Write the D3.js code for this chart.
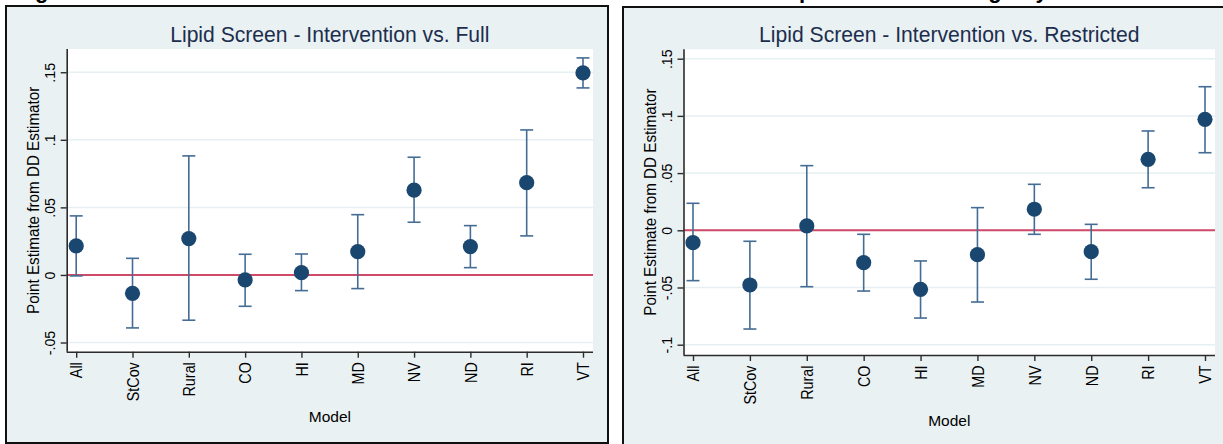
<!DOCTYPE html>
<html>
<head>
<meta charset="utf-8">
<script src="https://cdn.jsdelivr.net/npm/d3@7"></script>
<style>
  html, body { margin: 0; padding: 0; background: #ffffff; overflow: hidden; }
  svg { display: block; font-family: "Liberation Sans", Arial, Helvetica, sans-serif; }
</style>
</head>
<body>
<svg id="chart" width="1223" height="444"></svg>
<script>
// Models on the x axis
const models = ["All", "StCov", "Rural", "CO", "HI", "MD", "NV", "ND", "RI", "VT"];

// Intervention vs. Full: DD point estimates with lower / upper bounds
const fullEst = [0.0215, -0.0136, 0.0269, -0.0037, 0.0017, 0.0173, 0.0627, 0.0210, 0.0683, 0.1495];
const fullLo  = [-0.0007, -0.0392, -0.0335, -0.0232, -0.0116, -0.0101, 0.0390, 0.0054, 0.0289, 0.1384];
const fullHi  = [0.0437, 0.0123, 0.0881, 0.0153, 0.0155, 0.0446, 0.0871, 0.0365, 0.1073, 0.1606];

// Intervention vs. Restricted: DD point estimates with lower / upper bounds
const restEst = [-0.0108, -0.0478, 0.0038, -0.0283, -0.0516, -0.0213, 0.0184, -0.0187, 0.0620, 0.0970];
const restLo  = [-0.0440, -0.0863, -0.0493, -0.0531, -0.0767, -0.0627, -0.0035, -0.0428, 0.0372, 0.0678];
const restHi  = [0.0236, -0.0096, 0.0565, -0.0035, -0.0268, 0.0198, 0.0402, 0.0052, 0.0868, 0.1255];

// Y axis ticks and their labels
const fullTicks = [-0.05, 0, 0.05, 0.1, 0.15];
const fullTickLabels = ["-.05", "0", ".05", ".1", ".15"];
const restTicks = [-0.1, -0.05, 0, 0.05, 0.1, 0.15];
const restTickLabels = ["-.1", "-.05", "0", ".05", ".1", ".15"];

const titles = ["Lipid Screen - Intervention vs. Full", "Lipid Screen - Intervention vs. Restricted"];
const yTitle = "Point Estimate from DD Estimator";
const xTitle = "Model";
const caption = "Figure 7: Estimated Effects of the Intervention on Lipid Screening by Model";

const C = {
  bg: "#eaf1f3",
  plot: "#ffffff",
  grid: "#e6eff1",
  axis: "#2b2b2b",
  title: "#1c2e4e",
  marker: "#1a476f",
  bar: "#456c94",
  zero: "#cf4a68"
};

const svg = d3.select("#chart");

// squeeze or stretch a text run along its reading direction
function fit(sel, factor) {
  sel.each(function () {
    const len = this.getComputedTextLength();
    d3.select(this).attr("textLength", len * factor).attr("lengthAdjust", "spacingAndGlyphs");
  });
}

// Page caption sitting above the top edge; only its descenders reach into view
svg.append("text")
  .attr("x", 6).attr("y", -2.5)
  .attr("font-size", 22).attr("font-weight", "bold").attr("fill", "#000")
  .attr("textLength", 1140).attr("lengthAdjust", "spacing")
  .text(caption);

function drawPanel(cfg) {
  const g = svg.append("g");

  // outer graph region
  g.append("rect")
    .attr("x", cfg.box[0]).attr("y", cfg.box[1])
    .attr("width", cfg.box[2]).attr("height", cfg.box[3])
    .attr("fill", C.bg).attr("stroke", "#111").attr("stroke-width", 2);

  const x = d3.scalePoint().domain(models).range([cfg.left + 9.5, cfg.right - 10]);
  const y = d3.scaleLinear().domain(cfg.yDomain).range([cfg.bottom, cfg.top]);

  // plot region
  g.append("rect")
    .attr("x", cfg.left).attr("y", cfg.top)
    .attr("width", cfg.right - cfg.left).attr("height", cfg.bottom - cfg.top)
    .attr("fill", C.plot);

  // horizontal grid
  g.append("g").selectAll("line").data(cfg.ticks).join("line")
    .attr("x1", cfg.left).attr("x2", cfg.right)
    .attr("y1", d => y(d)).attr("y2", d => y(d))
    .attr("stroke", C.grid).attr("stroke-width", 1.5);

  // reference line at zero
  g.append("line")
    .attr("x1", cfg.left).attr("x2", cfg.right)
    .attr("y1", y(0)).attr("y2", y(0))
    .attr("stroke", C.zero).attr("stroke-width", 2);

  // confidence intervals
  const bars = g.append("g").attr("stroke", C.bar).attr("stroke-width", 1.6).attr("fill", "none");
  models.forEach((m, i) => {
    const cx = x(m);
    bars.append("line").attr("x1", cx).attr("x2", cx).attr("y1", y(cfg.lo[i])).attr("y2", y(cfg.hi[i]));
    bars.append("line").attr("x1", cx - 6.5).attr("x2", cx + 6.5).attr("y1", y(cfg.lo[i])).attr("y2", y(cfg.lo[i]));
    bars.append("line").attr("x1", cx - 6.5).attr("x2", cx + 6.5).attr("y1", y(cfg.hi[i])).attr("y2", y(cfg.hi[i]));
  });

  // point estimates
  g.append("g").selectAll("circle").data(models).join("circle")
    .attr("cx", d => x(d)).attr("cy", (d, i) => y(cfg.est[i]))
    .attr("r", 7.6).attr("fill", C.marker);

  // y axis
  const ya = g.append("g").attr("transform", `translate(${cfg.left},0)`)
    .call(d3.axisLeft(y).tickValues(cfg.ticks).tickFormat((d, i) => cfg.tickLabels[i]).tickSize(6).tickSizeOuter(0));
  ya.attr("font-family", null);
  ya.select(".domain").attr("stroke", C.axis).attr("stroke-width", 1.6)
    .attr("d", `M0.5,${cfg.top}V${cfg.bottom}`);
  ya.selectAll(".tick line").attr("stroke", C.axis).attr("stroke-width", 1.4);
  ya.selectAll(".tick text")
    .attr("transform", "rotate(-90)")
    .attr("x", 0).attr("y", -16.7).attr("dy", "0.35em")
    .attr("text-anchor", "middle")
    .attr("font-size", 15.5).attr("fill", "#000")
    .call(fit, 0.92);

  // x axis
  const xa = g.append("g").attr("transform", `translate(0,${cfg.bottom})`)
    .call(d3.axisBottom(x).tickSize(6).tickSizeOuter(0));
  xa.attr("font-family", null);
  xa.select(".domain").attr("stroke", C.axis).attr("stroke-width", 1.6)
    .attr("d", `M${cfg.left},0.5H${cfg.right}`);
  xa.selectAll(".tick line").attr("stroke", C.axis).attr("stroke-width", 1.4);
  xa.selectAll(".tick text")
    .attr("transform", "rotate(-90)")
    .attr("x", -10.5).attr("y", 0).attr("dy", "0.35em")
    .attr("text-anchor", "end")
    .attr("font-size", 16.5).attr("fill", "#000")
    .call(fit, 0.87);

  // titles
  const mid = (cfg.left + cfg.right) / 2;
  g.append("text")
    .attr("x", mid).attr("y", 42)
    .attr("text-anchor", "middle").attr("font-size", 22).attr("fill", C.title)
    .text(cfg.title).call(fit, 0.96);

  g.append("text")
    .attr("transform", `translate(${cfg.yTitleX},${(cfg.top + cfg.bottom) / 2}) rotate(-90)`)
    .attr("dy", "0.35em")
    .attr("text-anchor", "middle").attr("font-size", 16).attr("fill", "#000")
    .text(yTitle).call(fit, 0.95);

  g.append("text")
    .attr("x", mid).attr("y", cfg.xTitleY)
    .attr("text-anchor", "middle").attr("font-size", 15.5).attr("fill", "#000")
    .text(xTitle);
}

drawPanel({
  box: [6, 6, 602, 437],
  left: 66.7, right: 593, top: 49, bottom: 351.7,
  yDomain: [-0.0568, 0.1672],
  ticks: fullTicks, tickLabels: fullTickLabels,
  est: fullEst, lo: fullLo, hi: fullHi,
  title: titles[0], yTitleX: 33, xTitleY: 422
});

drawPanel({
  box: [623, 7, 620, 445],
  left: 683.5, right: 1215, top: 49.3, bottom: 355,
  yDomain: [-0.109, 0.1582],
  ticks: restTicks, tickLabels: restTickLabels,
  est: restEst, lo: restLo, hi: restHi,
  title: titles[1], yTitleX: 650, xTitleY: 426
});
</script>
</body>
</html>
